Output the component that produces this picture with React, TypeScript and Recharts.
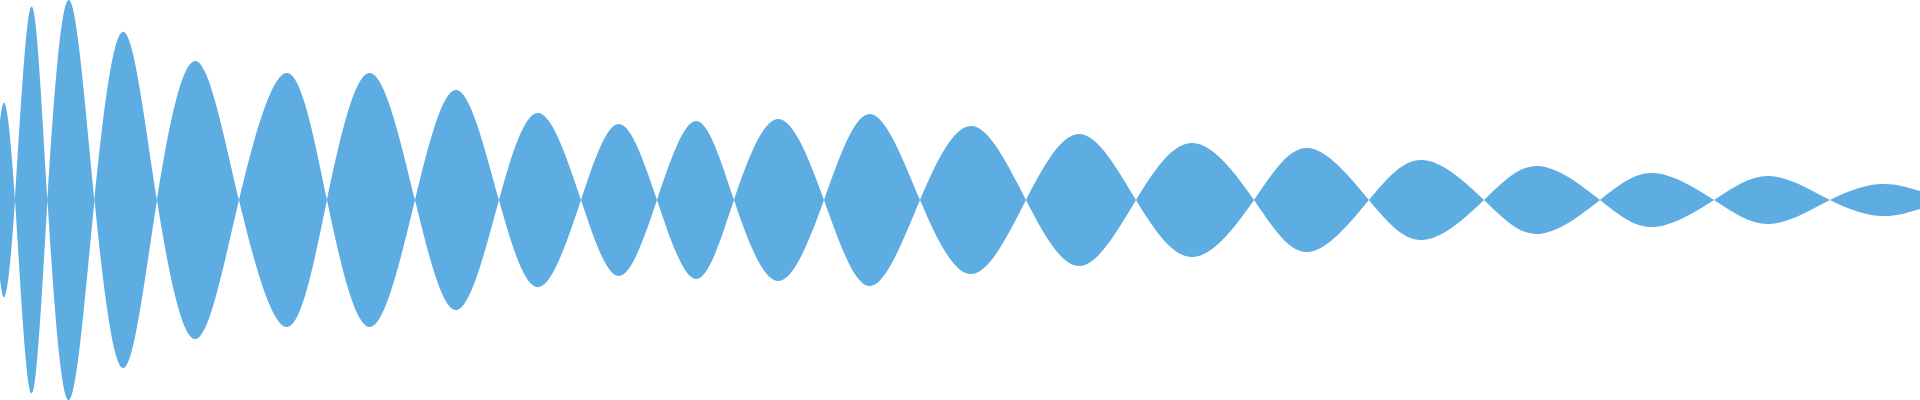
import React from 'react';
import { AreaChart, Area, XAxis, YAxis } from 'recharts';

const FILL = '#5DADE2';

// time of each reading (ms) and the signed level (full scale = 200)
const times = [
  0, 5, 15, 31, 47.5, 69, 94.5, 124, 157, 196, 239, 287, 327, 370, 415, 457, 499, 539, 581,
  619, 657, 696, 734, 778, 824, 870, 920, 972, 1026, 1080, 1136, 1193, 1254, 1308, 1369,
  1423, 1484, 1538, 1600, 1653, 1714, 1770, 1830, 1880, 1920,
];
const levels = [
  79, 96, 0, -193, 0, 200, 0, -168, 0, 139, 0, -127, 0, 127, 0, -110, 0, 87, 0,
  -76, 0, 79, 0, -81, 0, 86, 0, -74, 0, 66, 0, -57, 0, 52, 0,
  -40, 0, 34, 0, -27, 0, 24, 0, -16, -9,
];

// mirrored band: the wave and its reflection
const rows = times.map((t, i) => ({ t, band: [-levels[i], levels[i]] }));

export default function App() {
  return (
    <div style={{ position: 'fixed', left: 0, top: 0, width: 1920, height: 400, background: '#fff' }}>
      <AreaChart width={1920} height={400} data={rows} margin={{ top: 0, right: 0, bottom: 0, left: 0 }}>
        <XAxis dataKey="t" type="number" domain={[0, 1920]} hide />
        <YAxis type="number" domain={[-200, 200]} allowDataOverflow hide />
        <Area
          type="natural"
          dataKey="band"
          stroke="none"
          fill={FILL}
          fillOpacity={1}
          dot={false}
          activeDot={false}
          isAnimationActive={false}
        />
      </AreaChart>
    </div>
  );
}
